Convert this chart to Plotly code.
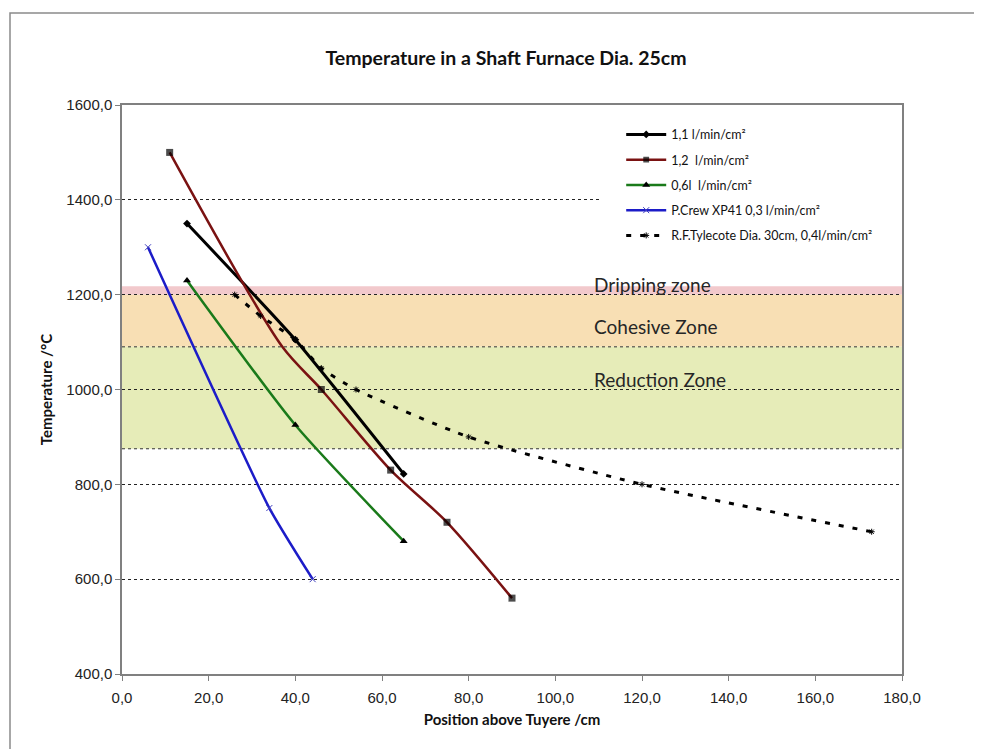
import plotly.graph_objects as go

# ---- data ----
x_11 = [15, 40, 65]
y_11 = [1350, 1105, 822]

x_12 = [11, 37, 46, 62, 75, 90]
y_12 = [1500, 1090, 1000, 830, 720, 560]

x_06 = [15, 40, 65]
y_06 = [1230, 925, 680]

x_crew = [6, 34, 44]
y_crew = [1300, 750, 600]

x_tyle = [26, 32, 40, 46, 54, 80, 120, 173]
y_tyle = [1200, 1155, 1105, 1045, 1000, 900, 800, 700]

zone_names = ["Dripping zone", "Cohesive Zone", "Reduction Zone"]
zone_low = [1200, 1090, 875]
zone_high = [1218, 1200, 1090]
zone_label_y = [1221, 1133, 1021]

names = ["1,1 l/min/cm²", "1,2  l/min/cm²", "0,6l  l/min/cm²",
         "P.Crew XP41 0,3 l/min/cm²", "R.F.Tylecote Dia. 30cm, 0,4l/min/cm²"]

x_ticks = [0, 20, 40, 60, 80, 100, 120, 140, 160, 180]
y_ticks = [400, 600, 800, 1000, 1200, 1400, 1600]

# ---- figure ----
fig = go.Figure()

fig.add_trace(go.Scatter(x=x_11, y=y_11, name=names[0], mode="lines+markers", legendgroup="a",
                         line=dict(color="#000000", width=3, shape="spline", smoothing=0.5),
                         marker=dict(symbol="diamond", size=6, color="#000000")))
fig.add_trace(go.Scatter(x=x_12, y=y_12, name=names[1], mode="lines+markers", legendgroup="b",
                         line=dict(color="#7a1212", width=2.5, shape="spline", smoothing=0.8),
                         marker=dict(symbol="square", size=[7, 0, 7, 7, 7, 7], color="#000000",
                                     line=dict(width=0))))
fig.add_trace(go.Scatter(x=x_06, y=y_06, name=names[2], mode="lines+markers", legendgroup="c",
                         line=dict(color="#1a7a1a", width=2.5, shape="spline", smoothing=0.6),
                         marker=dict(symbol="triangle-up", size=7, color="#000000",
                                     line=dict(width=0))))
fig.add_trace(go.Scatter(x=x_crew, y=y_crew, name=names[3], mode="lines+markers", legendgroup="d",
                         line=dict(color="#1c1cc8", width=2.5, shape="spline", smoothing=0.5),
                         marker=dict(symbol="x-thin", size=6, color="#4040c0",
                                     line=dict(width=1, color="#4040c0"))))
fig.add_trace(go.Scatter(x=x_tyle, y=y_tyle, name=names[4], mode="lines+markers", legendgroup="e",
                         line=dict(color="#000000", width=3, dash="5px,9px",
                                   shape="spline", smoothing=0.6),
                         marker=dict(symbol="asterisk-open", size=5, color="#000000",
                                     line=dict(width=1, color="#000000"))))

zone_colors = ["#f2c9cc", "#f8dfb4", "#e6ecb8"]
for lo, hi, col in zip(zone_low, zone_high, zone_colors):
    fig.add_shape(type="rect", xref="paper", yref="y", x0=0, x1=1, y0=lo, y1=hi,
                  fillcolor=col, line=dict(width=0), layer="below")
# dotted zone boundaries
for yv in [1090, 875]:
    fig.add_shape(type="line", xref="paper", yref="y", x0=0, x1=1, y0=yv, y1=yv,
                  line=dict(color="#333333", width=1, dash="dot"), layer="below")

for nm, yv in zip(zone_names, zone_label_y):
    fig.add_annotation(x=108.5, y=yv, text=nm, showarrow=False, xanchor="left",
                       yanchor="middle", font=dict(family="Lato", size=19, color="#262626"))

# white legend background box (hides the gridline behind the legend)
fig.add_shape(type="rect", xref="paper", yref="paper",
              x0=(600 - 122) / 780, x1=(899 - 122) / 780,
              y0=(674 - 250) / 569, y1=(674 - 118) / 569,
              line=dict(width=0), fillcolor="white", layer="above")

# outer chart border
fig.add_shape(type="rect", xref="paper", yref="paper",
              x0=(10 - 122) / 780, x1=(976 - 122) / 780,
              y0=(674 - 800) / 569, y1=(674 - 13) / 569,
              line=dict(color="#8a8a8a", width=1.5), fillcolor="rgba(0,0,0,0)")

W, H = 974, 741
fig.update_layout(
    width=W, height=H,
    margin=dict(l=114, r=80, t=97, b=75),
    plot_bgcolor="white", paper_bgcolor="white",
    separators=",.",
    title=dict(text="<b>Temperature in a Shaft Furnace Dia. 25cm</b>",
               x=(506 - 8) / W, xanchor="center", y=1 - (58 - 8) / H, yanchor="middle",
               font=dict(family="Lato", size=19.5, color="#111111")),
    legend=dict(x=0.64, y=0.974, xanchor="left", yanchor="top",
                bgcolor="rgba(0,0,0,0)", font=dict(family="Lato", size=12.5, color="#111111"),
                tracegroupgap=6, itemwidth=40),
    font=dict(family="Liberation Sans", size=15, color="#222222"),
)

fig.update_xaxes(range=[0, 180], tickvals=x_ticks, tickformat=".1f",
                 showgrid=False, zeroline=False,
                 showline=True, linecolor="#808080", linewidth=1.5, mirror=True,
                 ticks="outside", ticklen=5, tickcolor="#808080", ticklabelstandoff=4,
                 title=dict(text="<b>Position above Tuyere /cm</b>",
                            font=dict(family="Lato", size=15, color="#111111"), standoff=10))
fig.update_yaxes(range=[400, 1600], tickvals=y_ticks, tickformat=".1f",
                 showgrid=True, gridcolor="#222222", griddash="dot", gridwidth=1,
                 zeroline=False,
                 showline=True, linecolor="#808080", linewidth=1.5, mirror=True,
                 ticks="outside", ticklen=5, tickcolor="#808080",
                 title=dict(text="<b>Temperature /°C</b>",
                            font=dict(family="Lato", size=15, color="#111111"), standoff=10))

fig.write_html("out.html")
